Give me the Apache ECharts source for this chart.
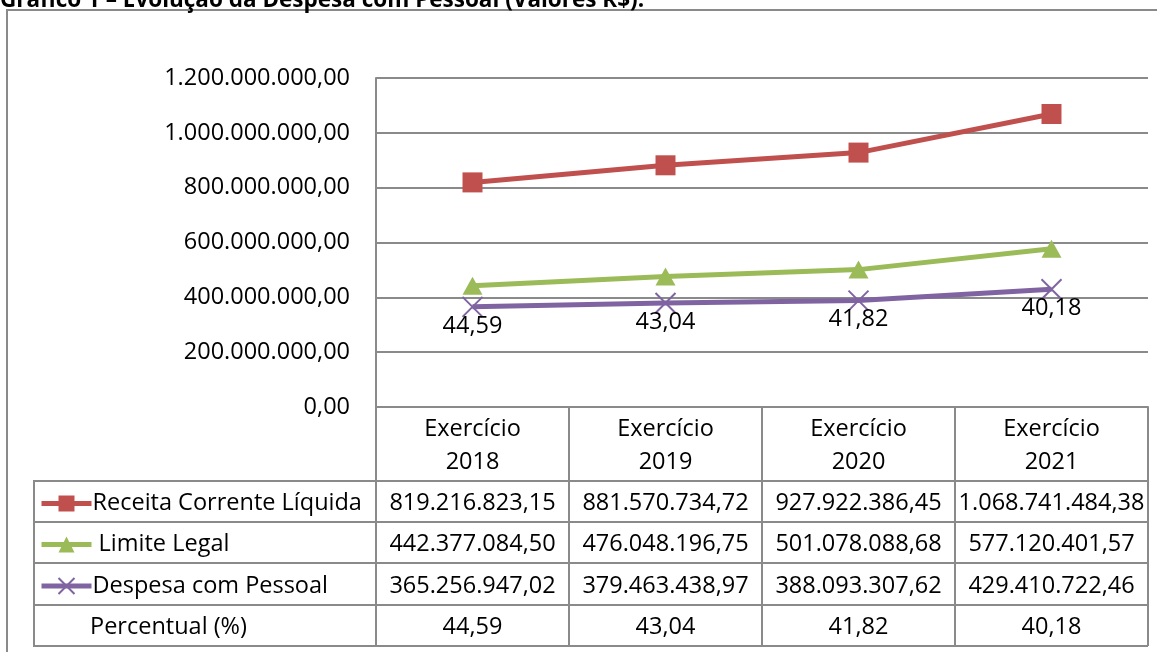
<!DOCTYPE html>
<html>
<head>
<meta charset="utf-8">
<script src="https://cdn.jsdelivr.net/npm/echarts@6/dist/echarts.min.js"></script>
<style>
html,body{margin:0;padding:0;background:#fff;}
#c{width:1157px;height:652px;}
</style>
</head>
<body>
<div id="c"></div>
<script>
// ---- data ----
const titleText = 'Gráfico 1 – Evolução da Despesa com Pessoal (Valores R$).';
const categories = ['Exercício\n2018', 'Exercício\n2019', 'Exercício\n2020', 'Exercício\n2021'];
const seriesNames = ['Receita Corrente Líquida', 'Limite Legal', 'Despesa com Pessoal'];
const receita = [819216823.15, 881570734.72, 927922386.45, 1068741484.38];
const limite = [442377084.50, 476048196.75, 501078088.68, 577120401.57];
const despesa = [365256947.02, 379463438.97, 388093307.62, 429410722.46];
const percentual = [44.59, 43.04, 41.82, 40.18];
const percentLabel = 'Percentual (%)';
const yTicks = [0, 200000000, 400000000, 600000000, 800000000, 1000000000, 1200000000];

// ---- helpers ----
function fmtBR(v) {
  const neg = v < 0; v = Math.abs(v);
  const fixed = v.toFixed(2);
  let [i, d] = fixed.split('.');
  i = i.replace(/\B(?=(\d{3})+(?!\d))/g, '.');
  return (neg ? '-' : '') + i + ',' + d;
}
const FONT = 'Open Sans';
const FS = 23.5;
const GRAY = '#8a8a8a';
const colors = ['#C0504D', '#9BBB59', '#8064A2'];

const gridLeft = 376, gridRight = 1148, gridTop = 78, gridBottom = 407;
const rowLines = [481, 522, 563, 605, 646];

function rowAxis(data, offset, height, showLine) {
  return {
    type: 'category', gridIndex: 0, position: 'bottom', offset: offset,
    data: data,
    axisLine: { show: showLine, lineStyle: { color: GRAY, width: 2 } },
    axisTick: { show: true, length: height, interval: 0, lineStyle: { color: GRAY, width: 2 } },
    axisLabel: { interval: 0, margin: 2, fontFamily: FONT, fontSize: FS, color: '#000', lineHeight: height, height: height, verticalAlign: 'top' },
    splitLine: { show: false }
  };
}

const chart = echarts.init(document.getElementById('c'), null, { renderer: 'canvas' });
const option = {
  animation: false,
  backgroundColor: '#fff',
  grid: { left: gridLeft, top: gridTop, width: gridRight - gridLeft, height: gridBottom - gridTop, containLabel: false },
  xAxis: [
    {
      type: 'category', gridIndex: 0, position: 'bottom', data: categories,
      axisLine: { show: true, lineStyle: { color: GRAY, width: 2 } },
      axisTick: { show: true, length: rowLines[0] - gridBottom, interval: 0, lineStyle: { color: GRAY, width: 2 } },
      axisLabel: { interval: 0, margin: 6, fontFamily: FONT, fontSize: FS, color: '#000', lineHeight: 33 },
      splitLine: { show: false }
    },
    rowAxis(receita.map(fmtBR), rowLines[0] - gridBottom, rowLines[1] - rowLines[0], true),
    rowAxis(limite.map(fmtBR), rowLines[1] - gridBottom, rowLines[2] - rowLines[1], true),
    rowAxis(despesa.map(fmtBR), rowLines[2] - gridBottom, rowLines[3] - rowLines[2], true),
    rowAxis(percentual.map(v => v.toFixed(2).replace('.', ',')), rowLines[3] - gridBottom, rowLines[4] - rowLines[3], true)
  ],
  yAxis: {
    type: 'value', min: yTicks[0], max: yTicks[yTicks.length - 1], interval: yTicks[1] - yTicks[0],
    axisLine: { show: true, lineStyle: { color: GRAY, width: 2 } },
    axisTick: { show: false },
    splitLine: { show: true, lineStyle: { color: GRAY, width: 2 } },
    axisLabel: { margin: 26, fontFamily: FONT, fontSize: FS, color: '#000', formatter: v => fmtBR(v) }
  },
  legend: seriesNames.map((n, i) => ({
    data: [n], left: 39, top: (rowLines[i] + rowLines[i + 1]) / 2 - 13, orient: 'horizontal',
    itemWidth: 50, itemHeight: 20, itemGap: 0, padding: 0, selectedMode: false,
    lineStyle: { width: 5 },
    formatter: name => (name === 'Limite Legal' ? ' ' + name : name),
    textStyle: { fontFamily: FONT, fontSize: FS, color: '#000', padding: [0, 0, 0, -4], lineHeight: 30 }
  })),
  series: [
    {
      name: seriesNames[0], type: 'line', data: receita, color: colors[0],
      symbol: 'rect', symbolSize: 20,
      lineStyle: { width: 5, color: colors[0] }, itemStyle: { color: colors[0] }
    },
    {
      name: seriesNames[1], type: 'line', data: limite, color: colors[1],
      symbol: 'triangle', symbolSize: [20, 18],
      lineStyle: { width: 5, color: colors[1] }, itemStyle: { color: colors[1] }
    },
    {
      name: seriesNames[2], type: 'line', data: despesa, color: colors[2],
      symbol: 'path://M0,0 L10,10 M10,0 L0,10', symbolSize: 20,
      lineStyle: { width: 5, color: colors[2] },
      itemStyle: { color: colors[2], borderColor: colors[2], borderWidth: 2 },
      label: {
        show: true, position: 'bottom', distance: -4,
        fontFamily: FONT, fontSize: FS, color: '#000',
        formatter: p => percentual[p.dataIndex].toFixed(2).replace('.', ',')
      }
    }
  ],
  graphic: [
    { type: 'rect', shape: { x: 7, y: 10, width: 1300, height: 800 }, style: { fill: 'none', stroke: GRAY, lineWidth: 2 }, silent: true, z: 0 },
    { type: 'text', x: 0, y: 12, style: { text: titleText, font: 'bold 22.5px "Open Sans"', fill: '#000', verticalAlign: 'bottom', align: 'left' }, silent: true },
    { type: 'rect', shape: { x: 34, y: rowLines[0], width: gridLeft - 34, height: rowLines[4] - rowLines[0] }, style: { fill: 'none', stroke: GRAY, lineWidth: 2 }, silent: true },
    { type: 'line', shape: { x1: 34, y1: rowLines[1], x2: gridLeft, y2: rowLines[1] }, style: { stroke: GRAY, lineWidth: 2 }, silent: true },
    { type: 'line', shape: { x1: 34, y1: rowLines[2], x2: gridLeft, y2: rowLines[2] }, style: { stroke: GRAY, lineWidth: 2 }, silent: true },
    { type: 'line', shape: { x1: 34, y1: rowLines[3], x2: gridLeft, y2: rowLines[3] }, style: { stroke: GRAY, lineWidth: 2 }, silent: true },
    { type: 'line', shape: { x1: 34, y1: rowLines[4], x2: gridRight, y2: rowLines[4] }, style: { stroke: GRAY, lineWidth: 2 }, silent: true },
    { type: 'text', x: 90, y: (rowLines[3] + rowLines[4]) / 2 + 2, style: { text: percentLabel, font: FS + 'px "Open Sans"', fill: '#000', verticalAlign: 'middle', align: 'left' }, silent: true }
  ]
};
chart.setOption(option);
</script>
</body>
</html>
